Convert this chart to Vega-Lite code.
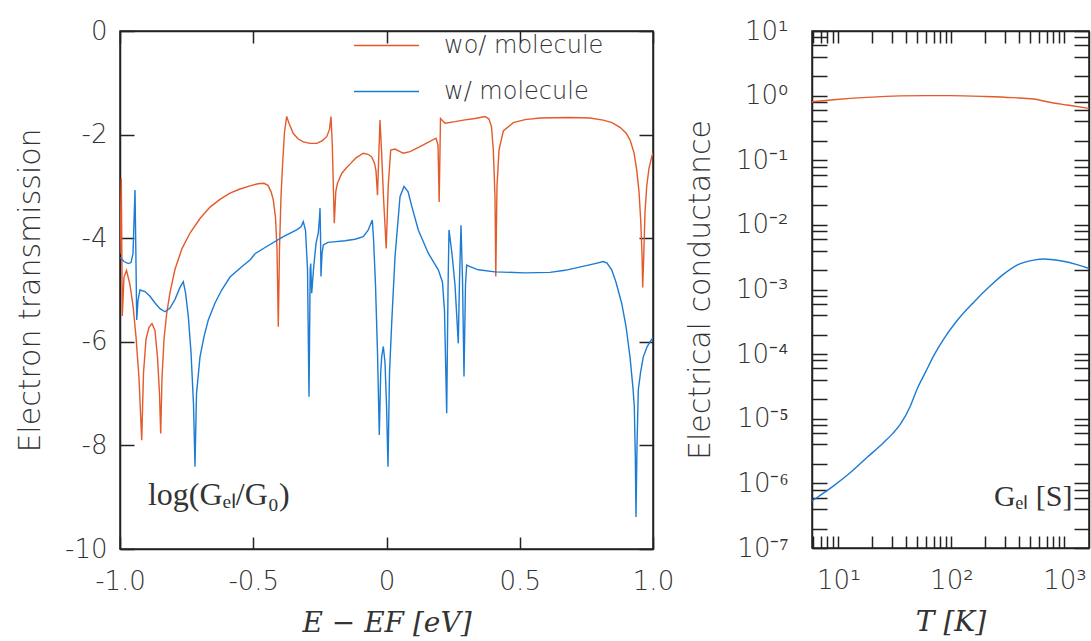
{
  "$schema": "https://vega.github.io/schema/vega-lite/v6.json",
  "padding": {"left": 14, "top": 12, "right": 0, "bottom": 0},
  "background": "white",
  "config": {
    "font": "DejaVu Sans",
    "view": {"stroke": "#222", "strokeWidth": 1.5},
    "axis": {"grid": false, "domainColor": "#222", "domainWidth": 1.5, "tickColor": "#222", "tickWidth": 1.5, "labelColor": "#333", "titleColor": "#333", "labelFont": "DejaVu Sans", "labelFontWeight": 200, "titleFont": "DejaVu Sans", "titleFontWeight": 200, "labelFontSize": 26, "titleFontSize": 30, "labelOverlap": false, "labelFlush": false, "labelBound": false},
    "legend": {"labelFont": "DejaVu Sans", "labelFontWeight": 200}
  },
  "datasets": {
    "trans": [
      {"E": -1.0, "v": -4.3, "series": "wo/ molecule"},
      {"E": -0.9951, "v": -2.85, "series": "wo/ molecule"},
      {"E": -0.9914, "v": -5.5, "series": "wo/ molecule"},
      {"E": -0.985, "v": -4.75, "series": "wo/ molecule"},
      {"E": -0.9756, "v": -4.62, "series": "wo/ molecule"},
      {"E": -0.9625, "v": -4.9, "series": "wo/ molecule"},
      {"E": -0.9512, "v": -5.3, "series": "wo/ molecule"},
      {"E": -0.94, "v": -5.9, "series": "wo/ molecule"},
      {"E": -0.9287, "v": -6.7, "series": "wo/ molecule"},
      {"E": -0.9186, "v": -7.9, "series": "wo/ molecule"},
      {"E": -0.9118, "v": -6.6, "series": "wo/ molecule"},
      {"E": -0.9024, "v": -5.95, "series": "wo/ molecule"},
      {"E": -0.8912, "v": -5.72, "series": "wo/ molecule"},
      {"E": -0.8799, "v": -5.65, "series": "wo/ molecule"},
      {"E": -0.8687, "v": -5.78, "series": "wo/ molecule"},
      {"E": -0.8593, "v": -6.3, "series": "wo/ molecule"},
      {"E": -0.8518, "v": -7.0, "series": "wo/ molecule"},
      {"E": -0.8473, "v": -7.77, "series": "wo/ molecule"},
      {"E": -0.8424, "v": -6.7, "series": "wo/ molecule"},
      {"E": -0.8349, "v": -5.95, "series": "wo/ molecule"},
      {"E": -0.8248, "v": -5.45, "series": "wo/ molecule"},
      {"E": -0.8124, "v": -5.05, "series": "wo/ molecule"},
      {"E": -0.7936, "v": -4.6, "series": "wo/ molecule"},
      {"E": -0.7674, "v": -4.2, "series": "wo/ molecule"},
      {"E": -0.7373, "v": -3.9, "series": "wo/ molecule"},
      {"E": -0.6998, "v": -3.62, "series": "wo/ molecule"},
      {"E": -0.6623, "v": -3.4, "series": "wo/ molecule"},
      {"E": -0.6248, "v": -3.25, "series": "wo/ molecule"},
      {"E": -0.5872, "v": -3.13, "series": "wo/ molecule"},
      {"E": -0.5497, "v": -3.05, "series": "wo/ molecule"},
      {"E": -0.5122, "v": -2.99, "series": "wo/ molecule"},
      {"E": -0.4822, "v": -2.95, "series": "wo/ molecule"},
      {"E": -0.4597, "v": -2.94, "series": "wo/ molecule"},
      {"E": -0.4447, "v": -2.98, "series": "wo/ molecule"},
      {"E": -0.4334, "v": -3.1, "series": "wo/ molecule"},
      {"E": -0.4248, "v": -3.26, "series": "wo/ molecule"},
      {"E": -0.4165, "v": -3.6, "series": "wo/ molecule"},
      {"E": -0.4109, "v": -4.2, "series": "wo/ molecule"},
      {"E": -0.406, "v": -5.71, "series": "wo/ molecule"},
      {"E": -0.4015, "v": -4.2, "series": "wo/ molecule"},
      {"E": -0.3959, "v": -3.2, "series": "wo/ molecule"},
      {"E": -0.3902, "v": -2.6, "series": "wo/ molecule"},
      {"E": -0.3827, "v": -1.95, "series": "wo/ molecule"},
      {"E": -0.3745, "v": -1.65, "series": "wo/ molecule"},
      {"E": -0.3659, "v": -1.78, "series": "wo/ molecule"},
      {"E": -0.3497, "v": -1.98, "series": "wo/ molecule"},
      {"E": -0.3321, "v": -2.08, "series": "wo/ molecule"},
      {"E": -0.3122, "v": -2.14, "series": "wo/ molecule"},
      {"E": -0.2871, "v": -2.17, "series": "wo/ molecule"},
      {"E": -0.2619, "v": -2.17, "series": "wo/ molecule"},
      {"E": -0.242, "v": -2.12, "series": "wo/ molecule"},
      {"E": -0.2244, "v": -2.04, "series": "wo/ molecule"},
      {"E": -0.2139, "v": -1.9, "series": "wo/ molecule"},
      {"E": -0.2083, "v": -1.65, "series": "wo/ molecule"},
      {"E": -0.2034, "v": -2.2, "series": "wo/ molecule"},
      {"E": -0.1959, "v": -3.71, "series": "wo/ molecule"},
      {"E": -0.1902, "v": -3.1, "series": "wo/ molecule"},
      {"E": -0.1846, "v": -2.95, "series": "wo/ molecule"},
      {"E": -0.1681, "v": -2.75, "series": "wo/ molecule"},
      {"E": -0.152, "v": -2.65, "series": "wo/ molecule"},
      {"E": -0.137, "v": -2.57, "series": "wo/ molecule"},
      {"E": -0.1145, "v": -2.45, "series": "wo/ molecule"},
      {"E": -0.0871, "v": -2.36, "series": "wo/ molecule"},
      {"E": -0.0694, "v": -2.38, "series": "wo/ molecule"},
      {"E": -0.0555, "v": -2.43, "series": "wo/ molecule"},
      {"E": -0.045, "v": -2.55, "series": "wo/ molecule"},
      {"E": -0.0394, "v": -2.7, "series": "wo/ molecule"},
      {"E": -0.0338, "v": -3.17, "series": "wo/ molecule"},
      {"E": -0.0289, "v": -2.4, "series": "wo/ molecule"},
      {"E": -0.0244, "v": -1.72, "series": "wo/ molecule"},
      {"E": -0.0188, "v": -2.3, "series": "wo/ molecule"},
      {"E": -0.0113, "v": -3.2, "series": "wo/ molecule"},
      {"E": -0.0011, "v": -4.2, "series": "wo/ molecule"},
      {"E": 0.0064, "v": -3.0, "series": "wo/ molecule"},
      {"E": 0.0158, "v": -2.3, "series": "wo/ molecule"},
      {"E": 0.0319, "v": -2.28, "series": "wo/ molecule"},
      {"E": 0.0507, "v": -2.33, "series": "wo/ molecule"},
      {"E": 0.063, "v": -2.36, "series": "wo/ molecule"},
      {"E": 0.0882, "v": -2.33, "series": "wo/ molecule"},
      {"E": 0.1257, "v": -2.23, "series": "wo/ molecule"},
      {"E": 0.1557, "v": -2.15, "series": "wo/ molecule"},
      {"E": 0.1857, "v": -2.07, "series": "wo/ molecule"},
      {"E": 0.1932, "v": -2.2, "series": "wo/ molecule"},
      {"E": 0.1977, "v": -3.3, "series": "wo/ molecule"},
      {"E": 0.2026, "v": -1.69, "series": "wo/ molecule"},
      {"E": 0.2195, "v": -1.78, "series": "wo/ molecule"},
      {"E": 0.257, "v": -1.75, "series": "wo/ molecule"},
      {"E": 0.2882, "v": -1.72, "series": "wo/ molecule"},
      {"E": 0.3321, "v": -1.69, "series": "wo/ molecule"},
      {"E": 0.3696, "v": -1.65, "series": "wo/ molecule"},
      {"E": 0.3846, "v": -1.7, "series": "wo/ molecule"},
      {"E": 0.394, "v": -1.85, "series": "wo/ molecule"},
      {"E": 0.4008, "v": -2.3, "series": "wo/ molecule"},
      {"E": 0.4071, "v": -3.2, "series": "wo/ molecule"},
      {"E": 0.4101, "v": -4.74, "series": "wo/ molecule"},
      {"E": 0.4146, "v": -3.0, "series": "wo/ molecule"},
      {"E": 0.4221, "v": -2.3, "series": "wo/ molecule"},
      {"E": 0.4383, "v": -1.93, "series": "wo/ molecule"},
      {"E": 0.4758, "v": -1.77, "series": "wo/ molecule"},
      {"E": 0.5197, "v": -1.71, "series": "wo/ molecule"},
      {"E": 0.576, "v": -1.68, "series": "wo/ molecule"},
      {"E": 0.6886, "v": -1.67, "series": "wo/ molecule"},
      {"E": 0.7636, "v": -1.68, "series": "wo/ molecule"},
      {"E": 0.8135, "v": -1.72, "series": "wo/ molecule"},
      {"E": 0.8462, "v": -1.77, "series": "wo/ molecule"},
      {"E": 0.8762, "v": -1.86, "series": "wo/ molecule"},
      {"E": 0.8987, "v": -1.97, "series": "wo/ molecule"},
      {"E": 0.9137, "v": -2.1, "series": "wo/ molecule"},
      {"E": 0.9287, "v": -2.35, "series": "wo/ molecule"},
      {"E": 0.9388, "v": -2.68, "series": "wo/ molecule"},
      {"E": 0.9475, "v": -3.1, "series": "wo/ molecule"},
      {"E": 0.9538, "v": -3.65, "series": "wo/ molecule"},
      {"E": 0.9587, "v": -4.3, "series": "wo/ molecule"},
      {"E": 0.9613, "v": -4.95, "series": "wo/ molecule"},
      {"E": 0.9644, "v": -4.5, "series": "wo/ molecule"},
      {"E": 0.97, "v": -3.5, "series": "wo/ molecule"},
      {"E": 0.9764, "v": -3.0, "series": "wo/ molecule"},
      {"E": 0.985, "v": -2.65, "series": "wo/ molecule"},
      {"E": 0.9951, "v": -2.43, "series": "wo/ molecule"},
      {"E": 1.0, "v": -2.35, "series": "wo/ molecule"},
      {"E": -1.0, "v": -4.38, "series": "w/ molecule"},
      {"E": -0.9962, "v": -4.39, "series": "w/ molecule"},
      {"E": -0.985, "v": -4.45, "series": "w/ molecule"},
      {"E": -0.9689, "v": -4.49, "series": "w/ molecule"},
      {"E": -0.9587, "v": -4.47, "series": "w/ molecule"},
      {"E": -0.9512, "v": -4.3, "series": "w/ molecule"},
      {"E": -0.9463, "v": -3.5, "series": "w/ molecule"},
      {"E": -0.9437, "v": -3.07, "series": "w/ molecule"},
      {"E": -0.9407, "v": -4.2, "series": "w/ molecule"},
      {"E": -0.9373, "v": -5.58, "series": "w/ molecule"},
      {"E": -0.9325, "v": -5.2, "series": "w/ molecule"},
      {"E": -0.925, "v": -5.0, "series": "w/ molecule"},
      {"E": -0.9062, "v": -5.03, "series": "w/ molecule"},
      {"E": -0.8874, "v": -5.12, "series": "w/ molecule"},
      {"E": -0.8687, "v": -5.25, "series": "w/ molecule"},
      {"E": -0.8499, "v": -5.36, "series": "w/ molecule"},
      {"E": -0.8311, "v": -5.42, "series": "w/ molecule"},
      {"E": -0.8124, "v": -5.35, "series": "w/ molecule"},
      {"E": -0.7936, "v": -5.18, "series": "w/ molecule"},
      {"E": -0.7749, "v": -4.95, "series": "w/ molecule"},
      {"E": -0.7625, "v": -4.84, "series": "w/ molecule"},
      {"E": -0.7542, "v": -5.05, "series": "w/ molecule"},
      {"E": -0.7437, "v": -5.51, "series": "w/ molecule"},
      {"E": -0.7336, "v": -6.2, "series": "w/ molecule"},
      {"E": -0.7242, "v": -7.2, "series": "w/ molecule"},
      {"E": -0.7186, "v": -8.41, "series": "w/ molecule"},
      {"E": -0.7129, "v": -7.0, "series": "w/ molecule"},
      {"E": -0.6998, "v": -6.29, "series": "w/ molecule"},
      {"E": -0.6848, "v": -5.9, "series": "w/ molecule"},
      {"E": -0.6687, "v": -5.58, "series": "w/ molecule"},
      {"E": -0.6435, "v": -5.25, "series": "w/ molecule"},
      {"E": -0.6184, "v": -5.0, "series": "w/ molecule"},
      {"E": -0.5872, "v": -4.75, "series": "w/ molecule"},
      {"E": -0.5433, "v": -4.55, "series": "w/ molecule"},
      {"E": -0.5122, "v": -4.42, "series": "w/ molecule"},
      {"E": -0.4934, "v": -4.3, "series": "w/ molecule"},
      {"E": -0.4495, "v": -4.16, "series": "w/ molecule"},
      {"E": -0.3872, "v": -3.97, "series": "w/ molecule"},
      {"E": -0.337, "v": -3.84, "series": "w/ molecule"},
      {"E": -0.3208, "v": -3.78, "series": "w/ molecule"},
      {"E": -0.3122, "v": -3.68, "series": "w/ molecule"},
      {"E": -0.3039, "v": -3.85, "series": "w/ molecule"},
      {"E": -0.2964, "v": -4.6, "series": "w/ molecule"},
      {"E": -0.2908, "v": -7.06, "series": "w/ molecule"},
      {"E": -0.2863, "v": -4.6, "series": "w/ molecule"},
      {"E": -0.2844, "v": -4.49, "series": "w/ molecule"},
      {"E": -0.2807, "v": -5.06, "series": "w/ molecule"},
      {"E": -0.2739, "v": -4.6, "series": "w/ molecule"},
      {"E": -0.2645, "v": -4.1, "series": "w/ molecule"},
      {"E": -0.2559, "v": -3.9, "series": "w/ molecule"},
      {"E": -0.2514, "v": -3.6, "series": "w/ molecule"},
      {"E": -0.2495, "v": -3.42, "series": "w/ molecule"},
      {"E": -0.2477, "v": -3.9, "series": "w/ molecule"},
      {"E": -0.2458, "v": -4.74, "series": "w/ molecule"},
      {"E": -0.242, "v": -4.3, "series": "w/ molecule"},
      {"E": -0.2371, "v": -4.13, "series": "w/ molecule"},
      {"E": -0.2195, "v": -4.08, "series": "w/ molecule"},
      {"E": -0.1996, "v": -4.07, "series": "w/ molecule"},
      {"E": -0.1557, "v": -4.05, "series": "w/ molecule"},
      {"E": -0.1182, "v": -4.02, "series": "w/ molecule"},
      {"E": -0.0871, "v": -3.97, "series": "w/ molecule"},
      {"E": -0.0694, "v": -3.85, "series": "w/ molecule"},
      {"E": -0.0533, "v": -3.65, "series": "w/ molecule"},
      {"E": -0.0488, "v": -4.0, "series": "w/ molecule"},
      {"E": -0.0413, "v": -4.9, "series": "w/ molecule"},
      {"E": -0.0338, "v": -6.2, "series": "w/ molecule"},
      {"E": -0.027, "v": -7.8, "series": "w/ molecule"},
      {"E": -0.0218, "v": -6.6, "series": "w/ molecule"},
      {"E": -0.018, "v": -6.29, "series": "w/ molecule"},
      {"E": -0.012, "v": -6.09, "series": "w/ molecule"},
      {"E": -0.0056, "v": -6.4, "series": "w/ molecule"},
      {"E": 0.0, "v": -7.2, "series": "w/ molecule"},
      {"E": 0.0056, "v": -8.41, "series": "w/ molecule"},
      {"E": 0.0113, "v": -6.6, "series": "w/ molecule"},
      {"E": 0.0195, "v": -5.64, "series": "w/ molecule"},
      {"E": 0.0319, "v": -4.36, "series": "w/ molecule"},
      {"E": 0.0507, "v": -3.2, "series": "w/ molecule"},
      {"E": 0.0657, "v": -3.0, "series": "w/ molecule"},
      {"E": 0.0807, "v": -3.1, "series": "w/ molecule"},
      {"E": 0.0957, "v": -3.4, "series": "w/ molecule"},
      {"E": 0.1193, "v": -3.84, "series": "w/ molecule"},
      {"E": 0.1568, "v": -4.29, "series": "w/ molecule"},
      {"E": 0.1944, "v": -4.61, "series": "w/ molecule"},
      {"E": 0.2101, "v": -4.85, "series": "w/ molecule"},
      {"E": 0.2176, "v": -5.4, "series": "w/ molecule"},
      {"E": 0.2259, "v": -7.38, "series": "w/ molecule"},
      {"E": 0.2308, "v": -5.0, "series": "w/ molecule"},
      {"E": 0.2345, "v": -3.84, "series": "w/ molecule"},
      {"E": 0.2458, "v": -4.3, "series": "w/ molecule"},
      {"E": 0.257, "v": -4.9, "series": "w/ molecule"},
      {"E": 0.2694, "v": -6.03, "series": "w/ molecule"},
      {"E": 0.2739, "v": -4.8, "series": "w/ molecule"},
      {"E": 0.2795, "v": -3.75, "series": "w/ molecule"},
      {"E": 0.2852, "v": -4.8, "series": "w/ molecule"},
      {"E": 0.2908, "v": -6.67, "series": "w/ molecule"},
      {"E": 0.2964, "v": -4.9, "series": "w/ molecule"},
      {"E": 0.3009, "v": -4.52, "series": "w/ molecule"},
      {"E": 0.3133, "v": -4.55, "series": "w/ molecule"},
      {"E": 0.3445, "v": -4.61, "series": "w/ molecule"},
      {"E": 0.4071, "v": -4.65, "series": "w/ molecule"},
      {"E": 0.5197, "v": -4.67, "series": "w/ molecule"},
      {"E": 0.6135, "v": -4.66, "series": "w/ molecule"},
      {"E": 0.6698, "v": -4.62, "series": "w/ molecule"},
      {"E": 0.7325, "v": -4.55, "series": "w/ molecule"},
      {"E": 0.7824, "v": -4.49, "series": "w/ molecule"},
      {"E": 0.8135, "v": -4.45, "series": "w/ molecule"},
      {"E": 0.8274, "v": -4.48, "series": "w/ molecule"},
      {"E": 0.845, "v": -4.61, "series": "w/ molecule"},
      {"E": 0.8612, "v": -4.85, "series": "w/ molecule"},
      {"E": 0.8826, "v": -5.26, "series": "w/ molecule"},
      {"E": 0.8987, "v": -5.7, "series": "w/ molecule"},
      {"E": 0.9137, "v": -6.29, "series": "w/ molecule"},
      {"E": 0.925, "v": -6.9, "series": "w/ molecule"},
      {"E": 0.9298, "v": -7.25, "series": "w/ molecule"},
      {"E": 0.9336, "v": -8.2, "series": "w/ molecule"},
      {"E": 0.9362, "v": -9.38, "series": "w/ molecule"},
      {"E": 0.94, "v": -8.0, "series": "w/ molecule"},
      {"E": 0.9448, "v": -6.93, "series": "w/ molecule"},
      {"E": 0.9531, "v": -6.6, "series": "w/ molecule"},
      {"E": 0.9636, "v": -6.29, "series": "w/ molecule"},
      {"E": 0.9775, "v": -6.1, "series": "w/ molecule"},
      {"E": 0.9887, "v": -6.0, "series": "w/ molecule"},
      {"E": 1.0, "v": -5.92, "series": "w/ molecule"}
    ],
    "cond": [
      {"T": 5.85, "G": 0.805, "series": "wo/ molecule"},
      {"T": 9.1, "G": 0.865, "series": "wo/ molecule"},
      {"T": 17.9, "G": 0.94, "series": "wo/ molecule"},
      {"T": 35, "G": 0.99, "series": "wo/ molecule"},
      {"T": 60, "G": 1.0, "series": "wo/ molecule"},
      {"T": 98, "G": 1.0, "series": "wo/ molecule"},
      {"T": 200, "G": 0.97, "series": "wo/ molecule"},
      {"T": 350, "G": 0.93, "series": "wo/ molecule"},
      {"T": 532, "G": 0.885, "series": "wo/ molecule"},
      {"T": 800, "G": 0.77, "series": "wo/ molecule"},
      {"T": 1057, "G": 0.715, "series": "wo/ molecule"},
      {"T": 1650, "G": 0.635, "series": "wo/ molecule"},
      {"T": 5.85, "G": 5.36e-7, "series": "w/ molecule"},
      {"T": 6.49, "G": 6.05e-7, "series": "w/ molecule"},
      {"T": 9.08, "G": 9.14e-7, "series": "w/ molecule"},
      {"T": 12.8, "G": 1.47e-6, "series": "w/ molecule"},
      {"T": 17.9, "G": 2.51e-6, "series": "w/ molecule"},
      {"T": 25.2, "G": 4.3e-6, "series": "w/ molecule"},
      {"T": 29.9, "G": 5.78e-6, "series": "w/ molecule"},
      {"T": 35.4, "G": 8.24e-6, "series": "w/ molecule"},
      {"T": 43.4, "G": 1.58e-5, "series": "w/ molecule"},
      {"T": 49.7, "G": 2.87e-5, "series": "w/ molecule"},
      {"T": 58.9, "G": 5.21e-5, "series": "w/ molecule"},
      {"T": 69.7, "G": 9.42e-5, "series": "w/ molecule"},
      {"T": 85.5, "G": 1.71e-4, "series": "w/ molecule"},
      {"T": 112, "G": 3.28e-4, "series": "w/ molecule"},
      {"T": 157, "G": 6.31e-4, "series": "w/ molecule"},
      {"T": 221, "G": 1.14e-3, "series": "w/ molecule"},
      {"T": 290, "G": 1.73e-3, "series": "w/ molecule"},
      {"T": 381, "G": 2.39e-3, "series": "w/ molecule"},
      {"T": 535, "G": 2.85e-3, "series": "w/ molecule"},
      {"T": 656, "G": 2.96e-3, "series": "w/ molecule"},
      {"T": 922, "G": 2.78e-3, "series": "w/ molecule"},
      {"T": 1295, "G": 2.42e-3, "series": "w/ molecule"},
      {"T": 1698, "G": 2.07e-3, "series": "w/ molecule"}
    ]
  },
  "hconcat": [
    {
      "width": 533,
      "height": 518,
      "layer": [
        {
          "data": {"name": "trans"},
          "mark": {"type": "line", "strokeWidth": 1.4, "clip": true},
          "encoding": {
            "x": {"field": "E", "type": "quantitative", "scale": {"domain": [-1, 1], "nice": false, "zero": false},
              "axis": {"values": [-1, -0.5, 0, 0.5, 1], "labelExpr": "datum.value == 0 ? '0' : datum.value == -1 ? '-1.0' : datum.value == -0.5 ? '-0.5' : datum.value == 0.5 ? '0.5' : '1.0'", "tickSize": -12, "labelPadding": 31, "title": "E − EF [eV]", "titleFont": "DejaVu Serif", "titleFontStyle": "italic", "titleFontWeight": "normal", "titleFontSize": 28, "titlePadding": 15}},
            "y": {"field": "v", "type": "quantitative", "scale": {"domain": [-10, 0], "nice": false},
              "axis": {"values": [-10, -8, -6, -4, -2, 0], "labelExpr": "datum.value == 0 ? '0' : '-' + abs(datum.value)", "tickSize": -14, "labelPadding": 27, "title": "Electron transmission", "titlePadding": 19}},
            "color": {"field": "series", "type": "nominal", "scale": {"domain": ["wo/ molecule", "w/ molecule"], "range": ["#E35A2B", "#1C7BD4"]},
              "legend": {"title": null, "orient": "none", "legendX": 233, "legendY": -19, "symbolType": "stroke", "symbolSize": 4225, "symbolStrokeWidth": 1.5, "labelFontSize": 24, "labelColor": "#333", "labelOffset": 24, "rowPadding": -27, "padding": 0}}
          }
        },
        {
          "data": {"values": [{"label": "log(Gₑₗ/G₀)"}]},
          "mark": {"type": "text", "align": "left", "baseline": "middle", "font": "Liberation Serif", "fontSize": 32, "color": "#333"},
          "encoding": {
            "x": {"datum": -0.895, "type": "quantitative", "axis": {"orient": "top", "values": [-1, -0.5, 0, 0.5, 1], "labels": false, "tickSize": -12, "title": null}},
            "y": {"datum": -8.96, "type": "quantitative", "axis": {"orient": "right", "values": [-10, -8, -6, -4, -2, 0], "labels": false, "tickSize": -14, "title": null}},
            "text": {"field": "label"}
          }
        }
      ],
      "resolve": {"axis": {"x": "independent", "y": "independent"}}
    },
    {
      "width": 277,
      "height": 517,
      "layer": [
        {
          "data": {"name": "cond"},
          "mark": {"type": "line", "strokeWidth": 1.4, "clip": true, "interpolate": "monotone"},
          "encoding": {
            "x": {"field": "T", "type": "quantitative", "scale": {"type": "log", "domain": [5.85, 1650], "nice": false},
              "axis": {"values": [6, 7, 8, 9, 10, 20, 30, 40, 50, 60, 70, 80, 90, 100, 200, 300, 400, 500, 600, 700, 800, 900, 1000], "labelExpr": "datum.value == 10 ? '10¹' : datum.value == 100 ? '10²' : datum.value == 1000 ? '10³' : ''", "tickSize": -12, "labelPadding": 31, "title": "T [K]", "titleFont": "DejaVu Serif", "titleFontStyle": "italic", "titleFontWeight": "normal", "titleFontSize": 28, "titlePadding": 15}},
            "y": {"field": "G", "type": "quantitative", "scale": {"type": "log", "domain": [1e-7, 10], "nice": false},
              "axis": {"values": [1e-7, 2e-7, 4e-7, 6e-7, 8e-7, 1e-6, 2e-6, 4e-6, 6e-6, 8e-6, 1e-5, 2e-5, 4e-5, 6e-5, 8e-5, 1e-4, 2e-4, 4e-4, 6e-4, 8e-4, 1e-3, 2e-3, 4e-3, 6e-3, 8e-3, 0.01, 0.02, 0.04, 0.06, 0.08, 0.1, 0.2, 0.4, 0.6, 0.8, 1, 2, 4, 6, 8, 10], "labelExpr": "datum.value == 10 ? '10¹' : datum.value == 1 ? '10⁰' : datum.value == 0.1 ? '10⁻¹' : datum.value == 0.01 ? '10⁻²' : datum.value == 0.001 ? '10⁻³' : datum.value == 0.0001 ? '10⁻⁴' : datum.value == 0.00001 ? '10⁻⁵' : datum.value == 0.000001 ? '10⁻⁶' : datum.value == 1e-7 ? '10⁻⁷' : ''", "tickSize": -15, "labelPadding": 39, "title": "Electrical conductance", "titlePadding": 20}},
            "color": {"field": "series", "type": "nominal", "scale": {"domain": ["wo/ molecule", "w/ molecule"], "range": ["#E35A2B", "#1C7BD4"]}, "legend": null}
          }
        },
        {
          "data": {"values": [{"label": "Gₑₗ [S]"}]},
          "mark": {"type": "text", "align": "right", "baseline": "middle", "font": "Liberation Serif", "fontSize": 30, "color": "#333"},
          "encoding": {
            "x": {"datum": 1178, "type": "quantitative", "axis": {"orient": "top", "values": [6, 7, 8, 9, 10, 20, 30, 40, 50, 60, 70, 80, 90, 100, 200, 300, 400, 500, 600, 700, 800, 900, 1000], "labels": false, "tickSize": -12, "title": null}},
            "y": {"datum": 6.1e-7, "type": "quantitative", "axis": {"orient": "right", "values": [1e-7, 2e-7, 4e-7, 6e-7, 8e-7, 1e-6, 2e-6, 4e-6, 6e-6, 8e-6, 1e-5, 2e-5, 4e-5, 6e-5, 8e-5, 1e-4, 2e-4, 4e-4, 6e-4, 8e-4, 1e-3, 2e-3, 4e-3, 6e-3, 8e-3, 0.01, 0.02, 0.04, 0.06, 0.08, 0.1, 0.2, 0.4, 0.6, 0.8, 1, 2, 4, 6, 8, 10], "labels": false, "tickSize": -15, "title": null}},
            "text": {"field": "label"}
          }
        }
      ],
      "resolve": {"axis": {"x": "independent", "y": "independent"}}
    }
  ],
  "spacing": 9
}
